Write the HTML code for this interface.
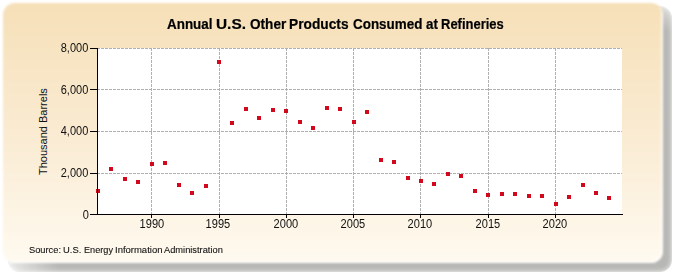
<!DOCTYPE html>
<html><head><meta charset="utf-8">
<style>
html,body{margin:0;padding:0;background:#fff;width:675px;height:275px;overflow:hidden;}
body{position:relative;font-family:"Liberation Sans",sans-serif;}
.shadow{position:absolute;left:8px;top:6px;width:664px;height:266px;border-radius:12px;background:rgba(30,30,25,0.32);filter:blur(2.8px);-webkit-mask-image:linear-gradient(to right,rgba(0,0,0,0.3) 0px,#000 50px),linear-gradient(to bottom,rgba(0,0,0,0.5) 0px,#000 25px);-webkit-mask-composite:source-in;mask-composite:intersect;}
.panel{position:absolute;left:2.8px;top:3px;width:660.7px;height:260px;border-radius:12px;background:linear-gradient(to bottom,#f6e0b8 0%,#faebd2 50%,#fffaf0 100%);filter:blur(1.2px);box-shadow:inset -2px -2px 0 rgba(255,255,255,0.7);}
.plot{position:absolute;left:97px;top:48px;width:525px;height:166px;background:#fff;}
.hg{position:absolute;left:97px;width:525px;height:1px;background:repeating-linear-gradient(to right,#b0b0b0 0,#b0b0b0 3px,transparent 3px,transparent 4px);}
.vg{position:absolute;top:48px;height:166px;width:1px;background:repeating-linear-gradient(to bottom,#b0b0b0 0,#b0b0b0 3px,transparent 3px,transparent 4px);}
.xax{position:absolute;left:97px;top:214px;width:526px;height:1px;background:#000;}
.yax{position:absolute;left:97px;top:48px;width:1px;height:167px;background:#000;}
.xt{position:absolute;top:215px;width:1px;height:3px;background:#000;}
.yt{position:absolute;left:90px;width:7px;height:1px;background:#000;}
.xl{position:absolute;top:214px;width:100px;text-align:center;font-size:12.5px;line-height:20px;color:#111;-webkit-text-stroke:0.0px #111;white-space:nowrap;}
.xl span{display:inline-block;transform:scaleX(0.885);transform-origin:50% 50%;}
.yl{position:absolute;left:-11.5px;width:100px;text-align:right;font-size:12.5px;line-height:20px;color:#111;-webkit-text-stroke:0.0px #111;white-space:nowrap;}
.yl span{display:inline-block;transform:scaleX(0.88);transform-origin:100% 50%;}
.m{position:absolute;width:4px;height:4px;background:#d2081c;}
.title{position:absolute;left:166.4px;top:14px;font-weight:bold;font-size:14px;line-height:20px;color:#000;-webkit-text-stroke:0.2px #000;white-space:nowrap;transform:scaleX(0.973);transform-origin:0 0;}
.ylab{position:absolute;left:33px;top:174.5px;font-size:11px;line-height:20px;color:#111;-webkit-text-stroke:0.0px #111;white-space:nowrap;transform:rotate(-90deg) scaleX(1.0);transform-origin:0 0;}
.src{position:absolute;left:28.4px;top:240px;font-size:9.5px;line-height:20px;color:#111;-webkit-text-stroke:0.1px #111;white-space:nowrap;transform:scaleX(0.928);transform-origin:0 0;}
</style></head><body>
<div class="shadow"></div>
<div class="panel"></div>
<div class="plot"></div>
<div class="hg" style="top:48px"></div>
<div class="hg" style="top:89px"></div>
<div class="hg" style="top:131px"></div>
<div class="hg" style="top:173px"></div>
<div class="vg" style="left:151px"></div>
<div class="vg" style="left:219px"></div>
<div class="vg" style="left:286px"></div>
<div class="vg" style="left:353px"></div>
<div class="vg" style="left:420px"></div>
<div class="vg" style="left:488px"></div>
<div class="vg" style="left:555px"></div>
<div class="m" style="left:96px;top:189px"></div>
<div class="m" style="left:109px;top:167px"></div>
<div class="m" style="left:123px;top:177px"></div>
<div class="m" style="left:136px;top:180px"></div>
<div class="m" style="left:150px;top:162px"></div>
<div class="m" style="left:163px;top:161px"></div>
<div class="m" style="left:177px;top:183px"></div>
<div class="m" style="left:190px;top:191px"></div>
<div class="m" style="left:204px;top:184px"></div>
<div class="m" style="left:217px;top:60px"></div>
<div class="m" style="left:230px;top:121px"></div>
<div class="m" style="left:244px;top:107px"></div>
<div class="m" style="left:257px;top:116px"></div>
<div class="m" style="left:271px;top:108px"></div>
<div class="m" style="left:284px;top:109px"></div>
<div class="m" style="left:298px;top:120px"></div>
<div class="m" style="left:311px;top:126px"></div>
<div class="m" style="left:325px;top:106px"></div>
<div class="m" style="left:338px;top:107px"></div>
<div class="m" style="left:352px;top:120px"></div>
<div class="m" style="left:365px;top:110px"></div>
<div class="m" style="left:379px;top:158px"></div>
<div class="m" style="left:392px;top:160px"></div>
<div class="m" style="left:406px;top:176px"></div>
<div class="m" style="left:419px;top:179px"></div>
<div class="m" style="left:432px;top:182px"></div>
<div class="m" style="left:446px;top:172px"></div>
<div class="m" style="left:459px;top:174px"></div>
<div class="m" style="left:473px;top:189px"></div>
<div class="m" style="left:486px;top:193px"></div>
<div class="m" style="left:500px;top:192px"></div>
<div class="m" style="left:513px;top:192px"></div>
<div class="m" style="left:527px;top:194px"></div>
<div class="m" style="left:540px;top:194px"></div>
<div class="m" style="left:554px;top:202px"></div>
<div class="m" style="left:567px;top:195px"></div>
<div class="m" style="left:581px;top:183px"></div>
<div class="m" style="left:594px;top:191px"></div>
<div class="m" style="left:607px;top:196px"></div>
<div class="xax"></div><div class="yax"></div>
<div class="xt" style="left:151px"></div>
<div class="xt" style="left:219px"></div>
<div class="xt" style="left:286px"></div>
<div class="xt" style="left:353px"></div>
<div class="xt" style="left:420px"></div>
<div class="xt" style="left:488px"></div>
<div class="xt" style="left:555px"></div>
<div class="yt" style="top:48px"></div>
<div class="yt" style="top:89px"></div>
<div class="yt" style="top:131px"></div>
<div class="yt" style="top:173px"></div>
<div class="yt" style="top:214px"></div>
<div class="xl" style="left:101.5px"><span>1990</span></div>
<div class="xl" style="left:168.0px"><span>1995</span></div>
<div class="xl" style="left:236.0px"><span>2000</span></div>
<div class="xl" style="left:303.0px"><span>2005</span></div>
<div class="xl" style="left:370.0px"><span>2010</span></div>
<div class="xl" style="left:438.0px"><span>2015</span></div>
<div class="xl" style="left:505.0px"><span>2020</span></div>
<div class="yl" style="top:38px"><span>8,000</span></div>
<div class="yl" style="top:80px"><span>6,000</span></div>
<div class="yl" style="top:121px"><span>4,000</span></div>
<div class="yl" style="top:163px"><span>2,000</span></div>
<div class="yl" style="top:205px"><span>0</span></div>
<div class="title" style="left:167.10px;transform:scale(0.9596,0.985);transform-origin:0 15px">Annual</div><div class="title" style="left:215.60px;transform:scale(1.1000,0.985);transform-origin:0 15px">U.S.</div><div class="title" style="left:249.80px;transform:scale(0.9703,0.985);transform-origin:0 15px">Other</div><div class="title" style="left:289.02px;transform:scale(0.9814,0.985);transform-origin:0 15px">Products</div><div class="title" style="left:353.00px;transform:scale(0.9597,0.985);transform-origin:0 15px">Consumed</div><div class="title" style="left:425.60px;transform:scale(0.9583,0.985);transform-origin:0 15px">at</div><div class="title" style="left:440.97px;transform:scale(0.9273,0.985);transform-origin:0 15px">Refineries</div>
<div class="ylab">Thousand Barrels</div>
<div class="src" style="left:28.62px;transform:scaleX(0.9774)">Source:</div><div class="src" style="left:62.91px;transform:scaleX(0.9882)">U.S.</div><div class="src" style="left:83.74px;transform:scaleX(0.9621)">Energy</div><div class="src" style="left:114.90px;transform:scaleX(0.9980)">Information</div><div class="src" style="left:163.90px;transform:scaleX(0.9767)">Administration</div>
</body></html>
